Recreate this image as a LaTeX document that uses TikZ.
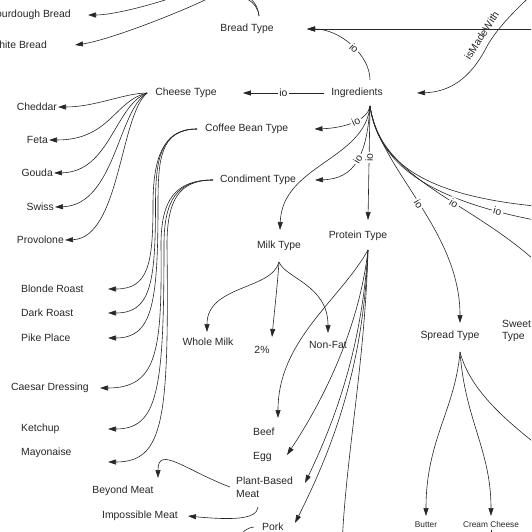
\documentclass[tikz,border=0pt]{standalone}
\usepackage{fontspec}
\setmainfont{Liberation Sans}
\usetikzlibrary{arrows.meta}

\begin{document}
\begin{tikzpicture}[x=1pt,y=1pt,
  edge/.style={draw=black!85, line width=0.6pt, -{Triangle[length=8pt,width=5pt]}},
  io/.style={fill=white, inner sep=1.5pt, sloped},
  small/.style={font=\fontsize{8.3}{9}\selectfont}]
\tikzstyle{every node}+=[inner sep=0pt, text=black!85, font=\fontsize{10.4}{12.8}\selectfont]
\useasboundingbox (0,0) rectangle (531,-532);
\clip (0,0) rectangle (531,-532);
% classes
\node (bread) at (247,-29) {Bread Type};
\node (ingr) at (357,-93) {Ingredients};
\node (cheese) at (186,-93) {Cheese Type};
\node [anchor=west] (coffee) at (205,-129) {Coffee Bean Type};
\node [anchor=west] (condiment) at (220,-180) {Condiment Type};
\node (milk) at (279,-246) {Milk Type};
\node (protein) at (358,-236) {Protein Type};
\node (spread) at (450,-336) {Spread Type};
\node [anchor=west, align=left] (sweet) at (502,-331) {Sweet\\Type};
% instances
\node [anchor=east] (sour) at (71,-15) {Sourdough Bread};
\node [anchor=east] (white) at (47,-45) {White Bread};
\node [anchor=east] (cheddar) at (57,-107) {Cheddar};
\node [anchor=east] (feta) at (48,-140) {Feta};
\node [anchor=east] (gouda) at (53,-173) {Gouda};
\node [anchor=east] (swiss) at (54,-207) {Swiss};
\node [anchor=east] (provolone) at (64,-240) {Provolone};
\node [anchor=west] (blonde) at (21,-289) {Blonde Roast};
\node [anchor=west] (dark) at (21,-313) {Dark Roast};
\node [anchor=west] (pike) at (21,-338) {Pike Place};
\node [anchor=west] (caesar) at (11,-388) {Caesar Dressing};
\node [anchor=west] (ketchup) at (21,-429) {Ketchup};
\node [anchor=west] (mayo) at (21,-453) {Mayonaise};
\node (whole) at (208,-342) {Whole Milk};
\node (two) at (262,-350) {2\%};
\node (nonfat) at (328,-345) {Non-Fat};
\node [anchor=west] (beef) at (253,-432) {Beef};
\node [anchor=west] (egg) at (253,-457) {Egg};
\node [anchor=west, align=left] (plant) at (236,-487) {Plant-Based\\Meat};
\node (beyond) at (123,-491) {Beyond Meat};
\node (impossible) at (140,-516) {Impossible Meat};
\node [anchor=west] (pork) at (262,-527) {Pork};
\node [small] (butter) at (426,-525) {Butter};
\node [small] (cream) at (491,-525) {Cream Cheese};
% ends outside the frame
\coordinate (offbread) at (545,-29);
\coordinate (offmade) at (540,13);
\coordinate (offA) at (545,-207);
\coordinate (offB) at (545,-222);
\coordinate (offC) at (545,-270);
\coordinate (offP) at (342,-545);
\coordinate (offK) at (236,-545);
\coordinate (offS) at (550,-455);
\coordinate (offCr) at (491,-545);
% bread
\draw [edge] ([shift={(12,13)}]bread.center) .. controls (256,15) and (195,10) .. (165,0) .. controls (140,-8) and (110,-15) .. ([xshift=17]sour.east);
\draw [edge] ([shift={(12,13)}]bread.center) .. controls (256,12) and (225,10) .. (205,0) .. controls (180,-12) and (110,-40) .. ([xshift=28]white.east);
\draw [edge] ([shift={(13,13)}]ingr.center) .. controls (370,-55) and (340,-29) .. ([xshift=60]bread.center) node [io, pos=0.45] {io};
\draw [edge] (offbread) -- ([xshift=60]bread.center);
\draw [edge] (offmade) .. controls (515,-10) and (495,-30) .. (485,-50) node [pos=0.85, sloped, above=6pt] {isMadeWith} .. controls (470,-78) and (450,-92) .. ([xshift=60]ingr.center);
% ingredients
\draw [edge] ([xshift=-7]ingr.west) -- ([xshift=26]cheese.east) node [io, midway] {io};
\draw [edge] ([shift={(13,-13)}]ingr.center) .. controls (368,-120) and (345,-128) .. ([xshift=26]coffee.east) node [io, pos=0.45] {io};
\draw [edge] ([shift={(13,-13)}]ingr.center) .. controls (367,-155) and (355,-179) .. ([xshift=95]condiment.west) node [io, pos=0.47] {io};
\draw [edge] ([shift={(13,-13)}]ingr.center) .. controls (365,-160) and (282,-165) .. ([shift={(1,16)}]milk.center);
\draw [edge] ([shift={(13,-13)}]ingr.center) -- ([shift={(10,16)}]protein.center) node [io, pos=0.45] {io};
\draw [edge] ([shift={(13,-13)}]ingr.center) .. controls (380,-170) and (460,-230) .. ([shift={(10,13)}]spread.center) node [io, pos=0.5] {io};
\draw [edge] ([shift={(13,-13)}]ingr.center) .. controls (378,-160) and (420,-195) .. (offA);
\draw [edge] ([shift={(13,-13)}]ingr.center) .. controls (378,-165) and (430,-200) .. (offB) node [io, pos=0.85] {io};
\draw [edge] ([shift={(13,-13)}]ingr.center) .. controls (380,-180) and (470,-200) .. (offC) node [io, pos=0.6] {io};
% cheese
\draw [edge] ([xshift=-8]cheese.west) .. controls (125,-93) and (95,-107) .. ([xshift=1]cheddar.east);
\draw [edge] ([xshift=-8]cheese.west) .. controls (115,-100) and (110,-140) .. ([xshift=1]feta.east);
\draw [edge] ([xshift=-8]cheese.west) .. controls (115,-105) and (110,-172) .. ([xshift=1]gouda.east);
\draw [edge] ([xshift=-8]cheese.west) .. controls (118,-110) and (115,-205) .. ([xshift=1]swiss.east);
\draw [edge] ([xshift=-8]cheese.west) .. controls (120,-115) and (120,-238) .. ([xshift=1]provolone.east);
% coffee
\draw [edge] ([xshift=-8]coffee.west) .. controls (162,-129) and (153,-160) .. (153,-205) .. controls (153,-265) and (148,-289) .. ([xshift=87]blonde.west);
\draw [edge] ([xshift=-8]coffee.west) .. controls (160,-129) and (155.5,-160) .. (155.5,-205) .. controls (155.5,-285) and (150,-313) .. ([xshift=87]dark.west);
\draw [edge] ([xshift=-8]coffee.west) .. controls (160,-129) and (158,-160) .. (158,-205) .. controls (158,-305) and (152,-338) .. ([xshift=87]pike.west);
% condiment
\draw [edge] ([xshift=-7]condiment.west) .. controls (175,-180) and (161,-200) .. (161,-245) .. controls (162,-350) and (158,-388) .. ([xshift=89]caesar.west);
\draw [edge] ([xshift=-7]condiment.west) .. controls (177,-180) and (164,-200) .. (164,-245) .. controls (164,-390) and (158,-429) .. ([xshift=87]ketchup.west);
\draw [edge] ([xshift=-7]condiment.west) .. controls (179,-180) and (167,-200) .. (167,-245) .. controls (169,-420) and (164,-462) .. ([shift={(87,-9)}]mayo.west);
% milk
\draw [edge] ([yshift=-16]milk.center) .. controls (272,-290) and (207,-285) .. ([shift={(-1,10)}]whole.center);
\draw [edge] ([yshift=-16]milk.center) .. controls (277,-290) and (274,-315) .. ([shift={(10,13)}]two.center);
\draw [edge] ([yshift=-16]milk.center) .. controls (285,-278) and (328,-285) .. ([yshift=12]nonfat.center);
% protein
\draw [edge] ([shift={(10,-14)}]protein.center) .. controls (340,-300) and (278,-340) .. ([shift={(25,14)}]beef.west);
\draw [edge] ([shift={(10,-14)}]protein.center) .. controls (360,-320) and (330,-390) .. ([shift={(34,2)}]egg.west);
\draw [edge] ([shift={(10,-14)}]protein.center) .. controls (362,-340) and (340,-410) .. ([shift={(69,4)}]plant.west);
\draw [edge] ([shift={(10,-14)}]protein.center) .. controls (364,-350) and (342,-430) .. ([shift={(33,4)}]pork.west);
\draw [edge] ([shift={(10,-14)}]protein.center) .. controls (365,-360) and (347,-450) .. (offP);
\draw [edge] ([xshift=-6]plant.west) .. controls (185,-470) and (158,-445) .. ([shift={(35,13)}]beyond.center);
\draw [edge] ([shift={(22,-20)}]plant.west) .. controls (257,-520) and (230,-520) .. ([xshift=48]impossible.center);
\draw [edge] ([xshift=-8]pork.west) .. controls (246,-528) and (242,-532) .. (offK);
% spread
\draw [edge] ([shift={(10,-16)}]spread.center) .. controls (455,-410) and (426,-440) .. ([yshift=9]butter.center);
\draw [edge] ([shift={(10,-16)}]spread.center) .. controls (465,-420) and (491,-450) .. ([yshift=9]cream.center);
\draw [edge] ([shift={(10,-16)}]spread.center) .. controls (470,-390) and (505,-420) .. (offS);
\draw [edge] ([yshift=-5]cream.center) -- (offCr);
\end{tikzpicture}
\end{document}
